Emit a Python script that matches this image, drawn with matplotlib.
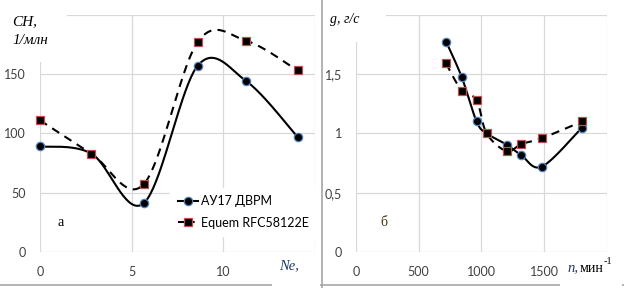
import numpy as np
import matplotlib
matplotlib.use('Agg')
import matplotlib.pyplot as plt
from matplotlib.lines import Line2D

# left chart: CH vs Ne
ne_solid = [0, 2.8, 5.65, 8.6, 11.25, 14.05]
ch_solid = [89, 83, 41, 157, 144, 97]
ne_dash = [0, 2.8, 5.65, 8.6, 11.25, 14.05]
ch_dash = [111, 83, 57, 177, 178, 153]

# right chart: g vs n
n_solid = [720, 843, 962, 1042, 1201, 1319, 1484, 1800]
g_solid = [1.77, 1.475, 1.10, 1.0, 0.905, 0.815, 0.72, 1.045]
n_dash = [718, 843, 962, 1042, 1201, 1319, 1484, 1805]
g_dash = [1.59, 1.36, 1.28, 1.0, 0.85, 0.91, 0.96, 1.10]

label_solid = 'АУ17 ДВРМ'
label_dash = 'Equem RFC58122E'

W, H = 624, 288


def smooth(x, y, n=40):
    # excel-style smoothed line (bezier through points)
    p = np.column_stack([x, y]).astype(float)
    out = [p[0]]
    for i in range(len(p) - 1):
        p0 = p[i - 1] if i > 0 else p[i]
        p1, p2 = p[i], p[i + 1]
        p3 = p[i + 2] if i + 2 < len(p) else p[i + 1]
        c1 = p1 + (p2 - p0) / 6
        c2 = p2 - (p3 - p1) / 6
        t = np.linspace(0, 1, n)[1:, None]
        seg = (1 - t) ** 3 * p1 + 3 * (1 - t) ** 2 * t * c1 + 3 * (1 - t) * t ** 2 * c2 + t ** 3 * p2
        out.extend(seg)
    out = np.array(out)
    return out[:, 0], out[:, 1]


def px(x0, y0, x1, y1):
    return [x0 / W, 1 - y1 / H, (x1 - x0) / W, (y1 - y0) / H]


fig = plt.figure(figsize=(W / 100, H / 100), dpi=100)
tick_font = {'family': 'Lato', 'size': 9}
grid_c = '#d9d9d9'

solid_kw = dict(color='black', lw=1.5, ls='-')
dash_kw = dict(color='black', lw=1.5, ls=(0, (4, 3)))
circ_kw = dict(marker='o', ms=6, mfc='black', mec='#4f81bd', mew=0.9, ls='none')
sq_kw = dict(marker='s', ms=6, mfc='black', mec='#c0504d', mew=0.9, ls='none')


def setup(ax, xmax, xstep, ymax, ystep, xlabels, ylabels):
    ax.set_xlim(0, xmax)
    ax.set_ylim(0, ymax)
    ax.set_xticks(np.arange(0, xmax + 1e-9, xstep))
    ax.set_yticks(np.arange(0, ymax + 1e-9, ystep))
    ax.set_xticklabels(xlabels, fontdict=tick_font)
    ax.set_yticklabels(ylabels, fontdict=tick_font)
    ax.grid(True, color=grid_c, lw=0.9)
    ax.set_axisbelow(True)
    for s in ax.spines.values():
        s.set_visible(False)
    ax.tick_params(length=0, pad=10, colors='#404040')
    ax.tick_params(axis='x', pad=10)


# left panel
ax1 = fig.add_axes(px(40, 14.7, 315, 252))
setup(ax1, 15, 5, 200, 50, ['0', '5', '10', ''], ['0', '50', '100', '150', ''])
xs, ys = smooth(ne_solid, ch_solid)
ax1.plot(xs, ys, **solid_kw)
xs, ys = smooth(ne_dash, ch_dash)
ax1.plot(xs, ys, **dash_kw)
ax1.plot(ne_dash, ch_dash, **sq_kw)
ax1.plot(ne_solid[:1] + ne_solid[2:], ch_solid[:1] + ch_solid[2:], **circ_kw)
for a in ax1.lines:
    a.set_clip_on(False)

h_solid = Line2D([], [], color='black', lw=1.5, marker='o', ms=6, mfc='black', mec='#4f81bd', mew=0.9)
h_dash = Line2D([], [], color='black', lw=1.5, ls=(0, (3, 2)), marker='s', ms=6, mfc='black', mec='#c0504d', mew=0.9)
leg = ax1.legend(handles=[h_solid, h_dash], labels=[label_solid, label_dash], loc='lower left',
                 bbox_to_anchor=(0.45, 0.04), frameon=True, fancybox=False,
                 edgecolor='white', framealpha=1, handlelength=1.6, handletextpad=0.3,
                 labelspacing=0.75, borderpad=0.6, prop={'family': 'Lato', 'size': 9})

# right panel
ax2 = fig.add_axes(px(356, 14.7, 606.7, 252))
setup(ax2, 2000, 500, 2.0, 0.5, ['0', '500', '1000', '1500', ''], ['0', '0,5', '1', '1,5', ''])
xs, ys = smooth(n_solid, g_solid)
ax2.plot(xs, ys, **solid_kw)
xs, ys = smooth(n_dash, g_dash)
ax2.plot(xs, ys, **dash_kw)
ax2.plot([v for v, g in zip(n_solid, g_solid) if v != 1042], [g for v, g in zip(n_solid, g_solid) if v != 1042], **circ_kw)
ax2.plot(n_dash, g_dash, **sq_kw)

# white boxes under axis titles
wb = dict(facecolor='white', edgecolor='none')
fig.patches.append(plt.Rectangle((0, 1 - 62 / H), 67 / W, 62 / H, transform=fig.transFigure, zorder=5, **wb))
fig.patches.append(plt.Rectangle((323 / W, 1 - 42 / H), 63 / W, 42 / H, transform=fig.transFigure, zorder=5, **wb))
fig.patches.append(plt.Rectangle((272 / W, 0), 48 / W, 30 / H, transform=fig.transFigure, zorder=5, **wb))
fig.patches.append(plt.Rectangle((560 / W, 0), 62 / W, 30 / H, transform=fig.transFigure, zorder=5, **wb))

serif = 'Liberation Serif'
fig.text(12 / W, 1 - 22 / H, 'CH,', family=serif, style='italic', fontsize=11, va='center', zorder=6)
fig.text(12 / W, 1 - 41 / H, '1/млн', family=serif, style='italic', fontsize=11, va='center', zorder=6)
fig.text(330 / W, 1 - 20 / H, 'g, г/с', family=serif, style='italic', fontsize=10, va='center', zorder=6)
fig.text(279 / W, 1 - 266 / H, 'Ne,', family=serif, style='italic', fontsize=10.5, va='center', color='#1f3864', zorder=6)
fig.text(567 / W, 1 - 268 / H, 'n,', family=serif, style='italic', fontsize=10.5, va='center', color='#1f3864', zorder=6)
fig.text(580 / W, 1 - 268 / H, 'мин', family=serif, fontsize=10, va='center', zorder=6)
fig.text(604 / W, 1 - 262 / H, '-1', family=serif, fontsize=7.5, va='center', zorder=6)
fig.text(57 / W, 1 - 223 / H, 'а', family=serif, fontsize=10, va='center')
fig.text(380 / W, 1 - 222 / H, 'б', family=serif, fontsize=10, va='center', color='#4a3510')

# panel borders
fig.add_artist(Line2D([322 / W, 322 / W], [0, 1], color='#a6a6a6', lw=1.2, transform=fig.transFigure))
fig.add_artist(Line2D([0, 1], [1 - 284.5 / H, 1 - 284.5 / H], color='#a6a6a6', lw=1.2, transform=fig.transFigure))

fig.savefig('out.png', dpi=100)
